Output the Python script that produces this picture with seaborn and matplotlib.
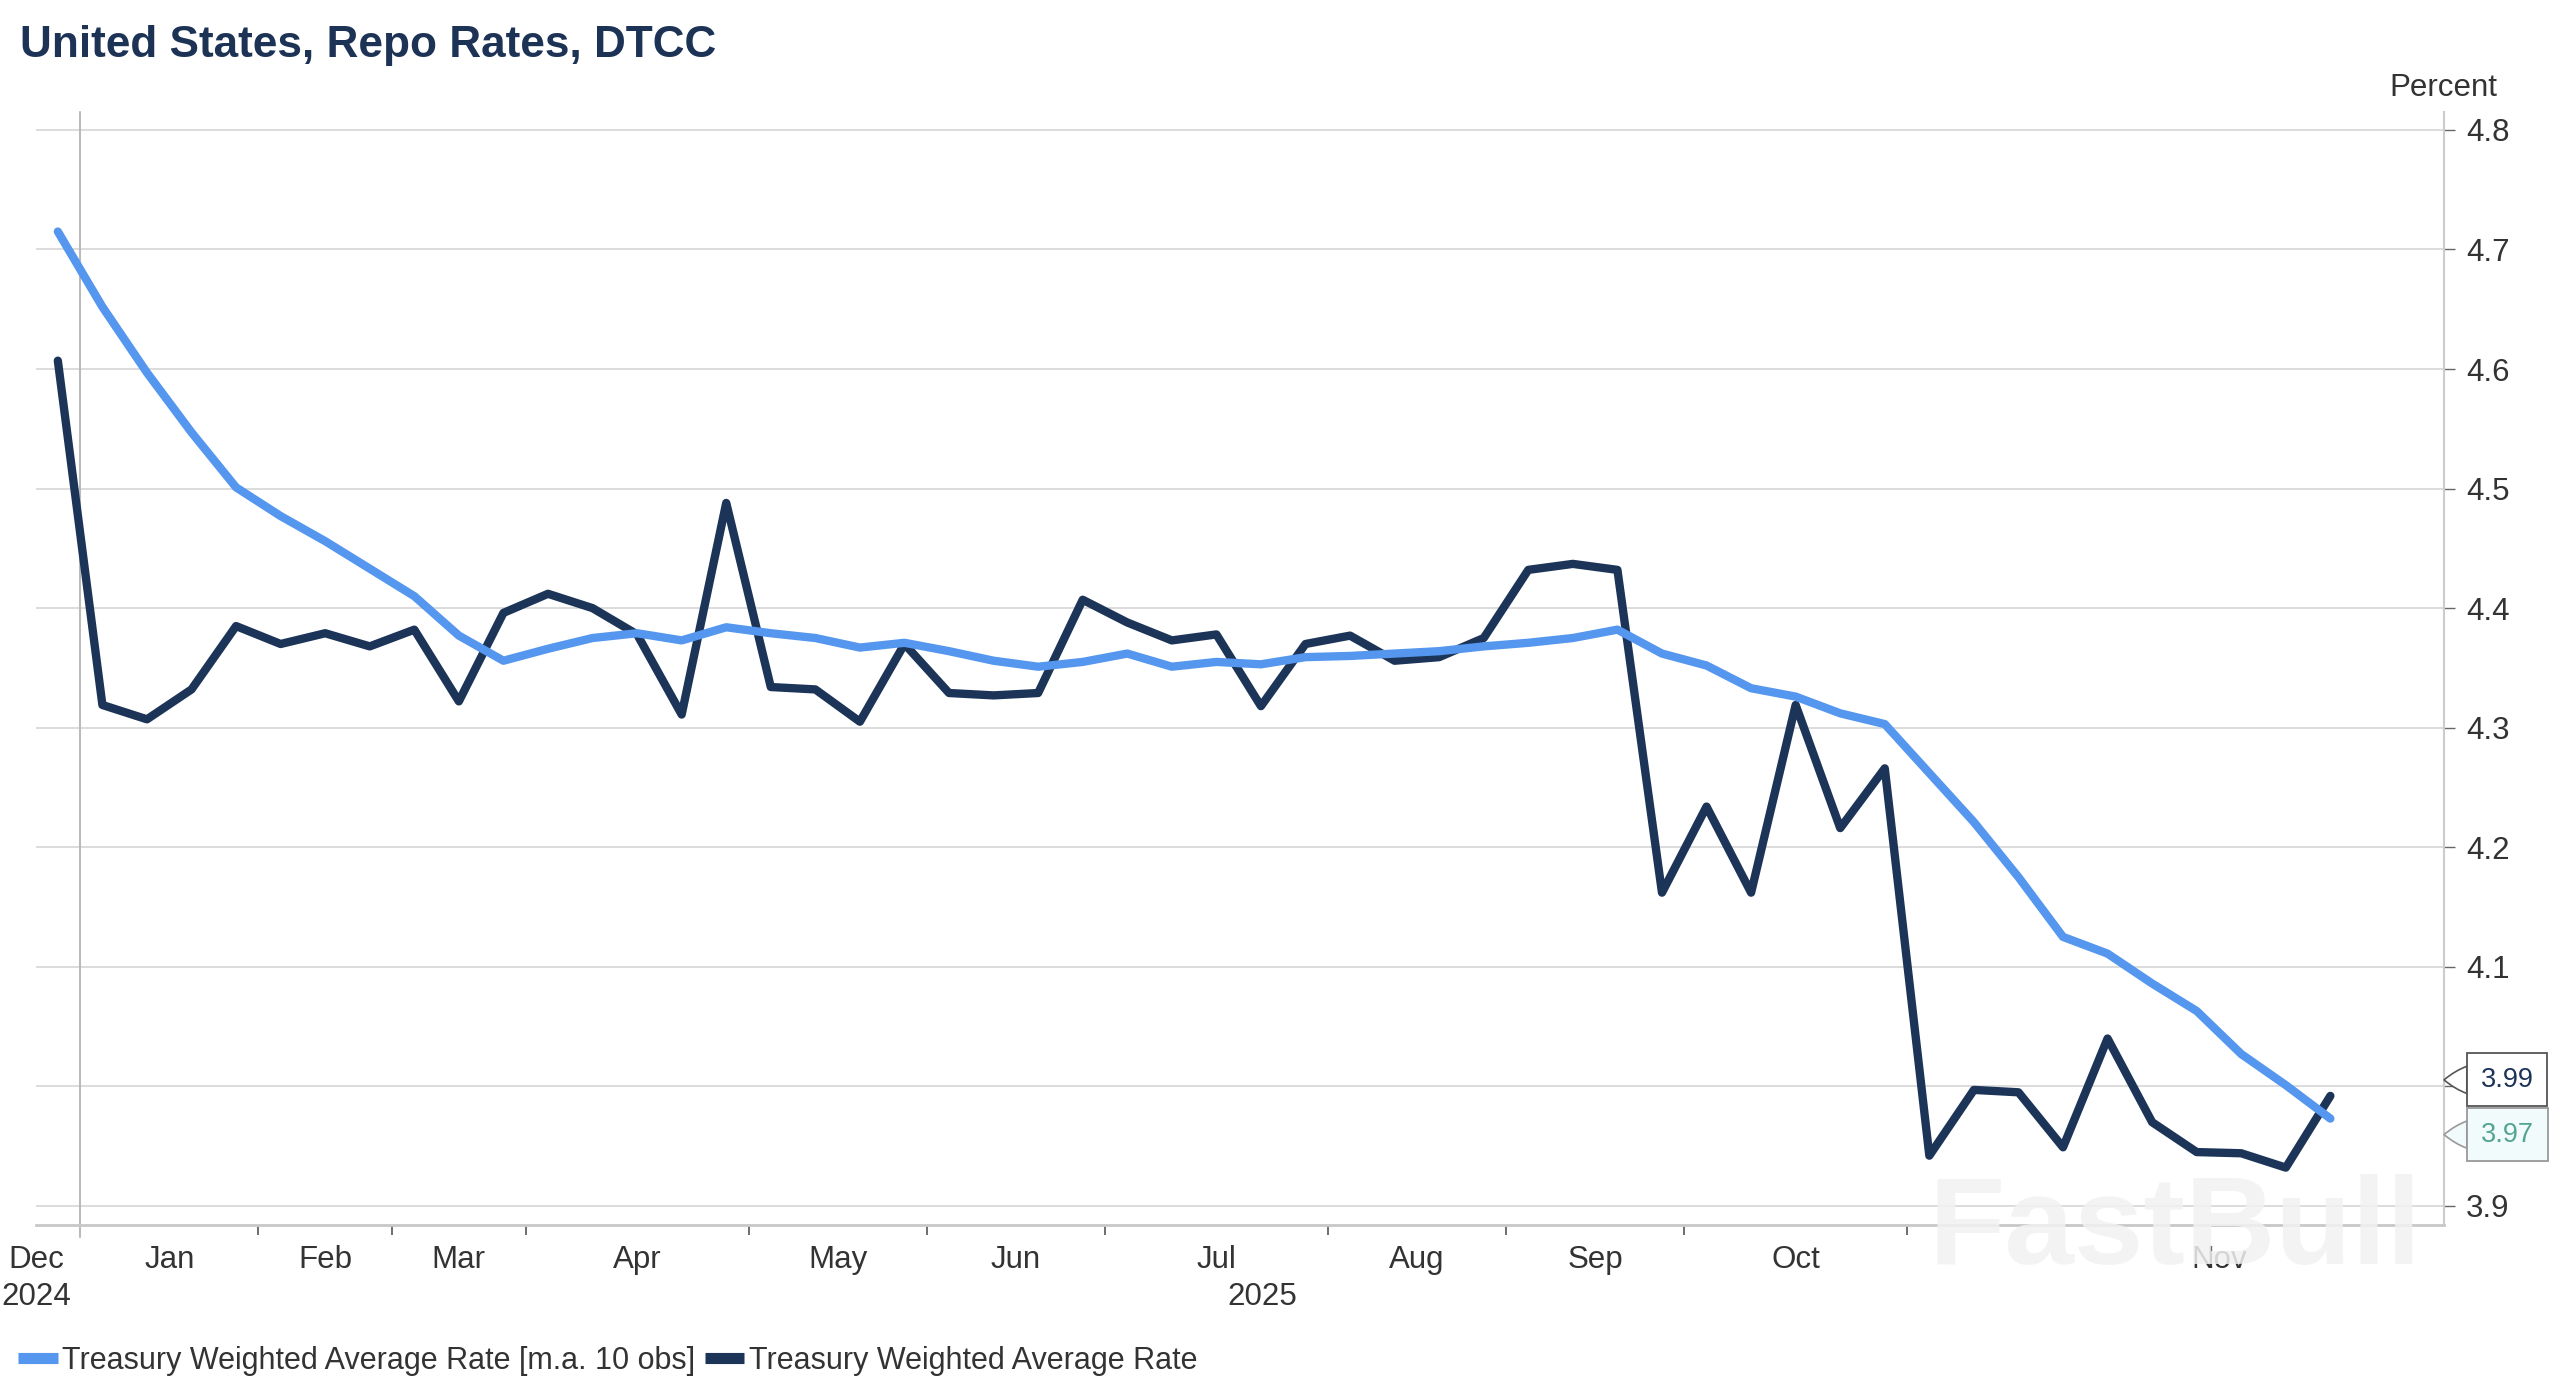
import matplotlib
matplotlib.use('Agg')
import pandas as pd
import matplotlib.pyplot as plt
import matplotlib.transforms as mtransforms
from matplotlib.lines import Line2D
import seaborn as sns

ma_rate = [4.715, 4.652, 4.597, 4.547, 4.501, 4.477, 4.456, 4.433, 4.410, 4.377,
           4.356, 4.366, 4.375, 4.379, 4.373, 4.384, 4.379, 4.375, 4.367, 4.371,
           4.364, 4.356, 4.351, 4.355, 4.362, 4.351, 4.355, 4.353, 4.359, 4.360,
           4.362, 4.364, 4.368, 4.371, 4.375, 4.382, 4.362, 4.352, 4.333, 4.326,
           4.312, 4.303, 4.262, 4.221, 4.175, 4.125, 4.111, 4.086, 4.063, 4.027,
           4.001, 3.973]
rate = [4.607, 4.319, 4.307, 4.332, 4.385, 4.370, 4.379, 4.368, 4.382, 4.322,
        4.396, 4.412, 4.400, 4.378, 4.311, 4.488, 4.334, 4.332, 4.305, 4.370,
        4.329, 4.327, 4.329, 4.407, 4.388, 4.373, 4.378, 4.318, 4.370, 4.377,
        4.356, 4.359, 4.375, 4.432, 4.437, 4.432, 4.162, 4.234, 4.162, 4.319,
        4.216, 4.266, 3.942, 3.997, 3.995, 3.949, 4.040, 3.970, 3.945, 3.944,
        3.932, 3.992]

months = ['Dec', 'Jan', 'Feb', 'Mar', 'Apr', 'May', 'Jun', 'Jul', 'Aug', 'Sep', 'Oct', 'Nov']
obs_per_month = [1, 4, 3, 3, 5, 4, 4, 5, 4, 4, 5, 10]
years = ['2024', '2025']
y_ticks = [3.9, 4.0, 4.1, 4.2, 4.3, 4.4, 4.5, 4.6, 4.7, 4.8]

ma_label = 'Treasury Weighted Average Rate [m.a. 10 obs]'
rate_label = 'Treasury Weighted Average Rate'

# colours
LIGHT = '#5596ef'
DARK = '#1c3458'
GRID = '#d9d9d9'
TEXT = '#333333'

df = pd.DataFrame({'obs': range(len(rate)), rate_label: rate, ma_label: ma_rate})
long_df = df.melt(id_vars='obs', var_name='series', value_name='value')

sns.set_theme(style='white')
plt.rcParams['font.family'] = ['Liberation Sans', 'DejaVu Sans']

fig = plt.figure(figsize=(25.6, 13.92), dpi=100)
ax = fig.add_axes([36 / 2560, 1 - 1225 / 1392, (2444 - 36) / 2560, (1225 - 112) / 1392])

sns.lineplot(data=long_df, x='obs', y='value', hue='series',
             hue_order=[rate_label, ma_label],
             palette={rate_label: DARK, ma_label: LIGHT},
             linewidth=6, legend=False, ax=ax, zorder=3)

xmin, xmax = -0.49, 53.55
ax.set_xlim(xmin, xmax)
ax.set_ylim(3.884, 4.815)

# y axis on the right; the 4.0 label sits under the value boxes in the source
ax.yaxis.tick_right()
ax.set_yticks(y_ticks)
ax.set_yticklabels(['' if abs(v - 4.0) < 1e-9 else f'{v:.1f}' for v in y_ticks])
ax.tick_params(axis='y', which='major', length=8, width=1, color='#666666',
               pad=8, labelsize=22.5, labelcolor=TEXT, right=True, left=False)
ax.grid(axis='y', color=GRID, linewidth=1.3, zorder=0)
ax.grid(axis='x', visible=False)
ax.set_xlabel('')
ax.set_ylabel('')

for side in ['top', 'left']:
    ax.spines[side].set_visible(False)
ax.spines['right'].set_color('#cccccc')
ax.spines['right'].set_linewidth(1.5)
ax.spines['bottom'].set_color('#c8c8c8')
ax.spines['bottom'].set_linewidth(2)

# month boundaries as ticks, labels centred between them
bounds = []
total = 0
for n in obs_per_month:
    total += n
    bounds.append(total - 0.5)
ax.set_xticks(bounds[:-1])
ax.set_xticklabels([])
ax.tick_params(axis='x', which='major', length=7, width=1.2, color='#555555', bottom=True)

starts = [-0.5] + bounds[:-1]
centers = [(a + b) / 2 for a, b in zip(starts, bounds)]
centers[0] = xmin            # first label sits at the left edge
centers[-1] = 48.5           # last month label as placed in the source chart
xtr = ax.get_xaxis_transform()
for m, c in zip(months, centers):
    ax.text(c, -0.031, m, transform=xtr, ha='center', va='center',
            fontsize=22.5, color=TEXT, clip_on=False)

# year labels centred over the visible part of each year
year_centers = [xmin, (bounds[0] + xmax) / 2]
for yr, c in zip(years, year_centers):
    ax.text(c, -0.065, yr, transform=xtr, ha='center', va='center',
            fontsize=22.5, color=TEXT, clip_on=False)

# year divider
ax.axvline(bounds[0], ymin=-0.011, ymax=1, color='#bbbbbb', linewidth=1.5,
           clip_on=False, zorder=1)

# end-of-series value boxes on the right axis
blend = mtransforms.blended_transform_factory(ax.transAxes, ax.transData)
last_vals = [rate[-1], ma_rate[-1]]
box_styles = [
    dict(fc='white', ec='#555555', tc=DARK),
    dict(fc='#f1fbfb', ec='#999999', tc='#55a493'),
]
order = sorted(range(2), key=lambda i: -last_vals[i])
spread = [16, -16]
for k, i in enumerate(order):
    st = box_styles[i]
    tr = mtransforms.offset_copy(blend, fig=fig, x=0, y=spread[k], units='dots')
    ax.annotate(f'{last_vals[i]:.2f}', xy=(1.0, last_vals[i]), xycoords=tr,
                xytext=(37, 0), textcoords='offset pixels',
                ha='left', va='center', fontsize=19.5, color=st['tc'],
                bbox=dict(boxstyle='square,pad=0.5', fc=st['fc'], ec=st['ec'], lw=1.3),
                arrowprops=dict(arrowstyle='wedge,tail_width=1.0,shrink_factor=0.6',
                                fc=st['fc'], ec=st['ec'], lw=1.2,
                                relpos=(0, 0.5), shrinkA=0, shrinkB=0),
                annotation_clip=False, zorder=6)

# titles and unit
fig.text(20 / 2560, 1 - 45 / 1392, 'United States, Repo Rates, DTCC',
         ha='left', va='center', fontsize=31.8, fontweight='bold', color='#1d3356')
fig.text(2497 / 2560, 1 - 88 / 1392, 'Percent', ha='right', va='center',
         fontsize=22.5, color=TEXT)

# legend
handles = [Line2D([0], [0], color=LIGHT, lw=8, solid_capstyle='butt'),
           Line2D([0], [0], color=DARK, lw=8, solid_capstyle='butt')]
fig.legend(handles, [ma_label, rate_label], loc='center left',
           bbox_to_anchor=(18 / 2560, 1 - 1361 / 1392), ncol=2, frameon=False,
           borderaxespad=0, borderpad=0, handlelength=1.3, handletextpad=0.15,
           columnspacing=0.3, fontsize=22, labelcolor=TEXT)

# watermark
fig.text(2175 / 2560, 1 - 1232 / 1392, 'FastBull', ha='center', va='center',
         fontsize=90, fontweight='bold', color='#f2f2f2', alpha=0.85, zorder=10)

fig.savefig('out.png', dpi=100)
